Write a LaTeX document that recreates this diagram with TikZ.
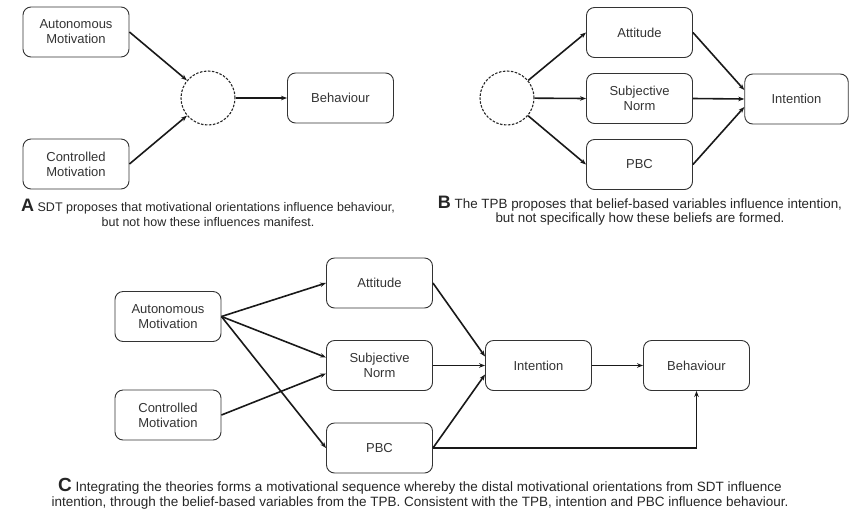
\documentclass[tikz,border=0pt]{standalone}
\usepackage{fontspec}
\setmainfont{Liberation Sans}
\usetikzlibrary{arrows.meta,calc}
\begin{document}
\begin{tikzpicture}[x=1pt,y=-1pt,
  box/.style={draw=black!80,line width=0.9pt,rounded corners=8pt,minimum width=106pt,minimum height=50pt,inner sep=2pt,align=center,text=black!80,font=\fontsize{13}{15}\selectfont},
  hid/.style={draw=black!85,line width=1.1pt,dash pattern=on 2.5pt off 1.5pt,circle,minimum size=54pt,inner sep=0pt},
  arr/.style={draw=black!90,line width=1.6pt,-{Stealth[length=6pt,width=4.5pt]}},
  captext/.style={align=center,text=black!85,inner sep=0pt}
]
\useasboundingbox (0,0) rectangle (849,515);
% Panel A
\node[box] (aA) at (76,32) {Autonomous\\Motivation};
\node[box] (cA) at (76,164) {Controlled\\Motivation};
\node[hid] (hA) at (208,98) {};
\node[box] (bA) at (340.5,98) {Behaviour};
\draw[arr] (aA.east) -- (hA);
\draw[arr] (cA.east) -- (hA);
\draw[arr] (hA) -- (bA);
\node[captext,font=\fontsize{12.5}{14.5}\selectfont] (capA) at (208,213) {{\fontsize{18}{14}\selectfont\bfseries A} SDT proposes that motivational orientations influence behaviour,\\but not how these influences manifest.};
% Panel B
\node[hid] (hB) at (507,98) {};
\node[box] (attB) at (639.5,32.5) {Attitude};
\node[box] (snB) at (639.5,98.5) {Subjective\\Norm};
\node[box] (pbcB) at (639.5,164.5) {PBC};
\node[box,minimum width=103.5pt] (intB) at (796.5,99) {Intention};
\draw[arr] (hB) -- (attB.west);
\draw[arr] (hB) -- (snB.west);
\draw[arr] (hB) -- (pbcB.west);
\draw[arr] (attB.east) -- ([yshift=9pt]intB.west);
\draw[arr] (snB.east) -- (intB.west);
\draw[arr] (pbcB.east) -- ([yshift=-8pt]intB.west);
\node[captext,font=\fontsize{13.4}{14.5}\selectfont] (capB) at (640,210.5) {{\fontsize{18}{14}\selectfont\bfseries B} The TPB proposes that belief-based variables influence intention,\\but not specifically how these beliefs are formed.};
% Panel C
\node[box] (aC) at (168,316.5) {Autonomous\\Motivation};
\node[box] (cC) at (168,415) {Controlled\\Motivation};
\node[box] (attC) at (379.5,283) {Attitude};
\node[box] (snC) at (379.5,365.5) {Subjective\\Norm};
\node[box] (pbcC) at (379.5,448) {PBC};
\node[box] (intC) at (538.5,365.5) {Intention};
\node[box] (behC) at (696.5,365.5) {Behaviour};
\draw[arr] (aC.east) -- (attC.west);
\draw[arr] (aC.east) -- ([yshift=8pt]snC.west);
\draw[arr] (aC.east) -- (pbcC.west);
\draw[arr] (cC.east) -- ([yshift=-8pt]snC.west);
\draw[arr] (attC.east) -- ([yshift=9pt]intC.west);
\draw[arr] (snC.east) -- (intC.west);
\draw[arr] (pbcC.east) -- ([yshift=-9pt]intC.west);
\draw[arr] (intC) -- (behC);
\draw[arr] (pbcC.east) -| (behC.south);
\node[captext,font=\fontsize{13.5}{15}\selectfont] (capC) at (420,494) {{\fontsize{19}{15}\selectfont\bfseries C} Integrating the theories forms a motivational sequence whereby the distal motivational orientations from SDT influence\\intention, through the belief-based variables from the TPB. Consistent with the TPB, intention and PBC influence behaviour.};
\end{tikzpicture}
\end{document}
